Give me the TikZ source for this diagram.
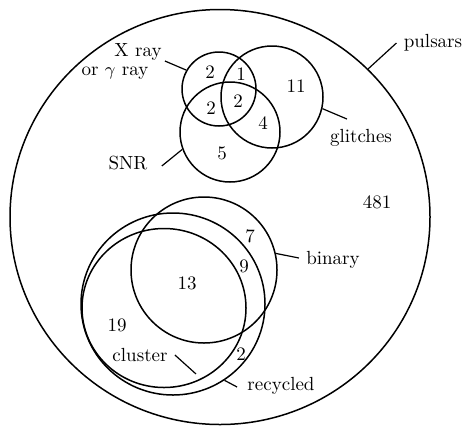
\documentclass[tikz,border=0pt]{standalone}
\usetikzlibrary{shapes.geometric,calc}
\begin{document}
\begin{tikzpicture}[x=0.5pt,y=-0.5pt,
  every node/.style={font=\fontsize{9.5}{11}\selectfont},
  ring/.style={draw,circle,inner sep=0pt,line width=0.75pt},
  oval/.style={draw,ellipse,inner sep=0pt,line width=0.75pt},
  lbl/.style={inner sep=0pt},
  num/.style={inner sep=0pt},
  leader/.style={line width=0.6pt}]
\useasboundingbox (0,0) rectangle (464,429);
% sets
\node[oval,minimum width=210pt,minimum height=207.5pt] (pulsars) at (220,217) {};
\node[ring,minimum size=37pt] (xray) at (219,89) {};
\node[ring,minimum size=51pt] (glitch) at (272,97) {};
\node[ring,minimum size=50pt] (snr) at (230,132) {};
\node[ring,minimum size=73pt] (binary) at (204,270) {};
\node[oval,minimum width=92pt,minimum height=91pt] (recyc) at (173,304) {};
\node[oval,minimum width=82pt,minimum height=79.5pt] (clust) at (164,308) {};
% counts
\node[num] (a1) at (210,72) {2};
\node[num] (a2) at (241,74) {1};
\node[num] (a3) at (296,86) {11};
\node[num] (a4) at (211,108) {2};
\node[num] (a5) at (238,101) {2};
\node[num] (a6) at (263,123) {4};
\node[num] (a7) at (222,153) {5};
\node[num] (a8) at (377,202) {481};
\node[num] (b1) at (250,236) {7};
\node[num] (b2) at (244,266) {9};
\node[num] (b3) at (187,283) {13};
\node[num] (b4) at (117,325) {19};
\node[num] (b5) at (241,354) {2};
% labels
\node[lbl] (lx) at (138,52) {X ray};
\node[lbl] (lg) at (115,73) {or $\gamma$ ray};
\node[lbl] (lsnr) at (128,163) {SNR};
\node[lbl] (lpul) at (433,43) {pulsars};
\node[lbl] (lgli) at (361,138) {glitches};
\node[lbl] (lbin) at (333,260) {binary};
\node[lbl] (lclu) at (140,355) {cluster};
\node[lbl] (lrec) at (281,386) {recycled};
% leaders
\coordinate (ex) at ($(lx.east)+(3,9)$);
\draw[leader] (ex) -- (xray.150);
\coordinate (es) at ($(lsnr.east)+(14,3)$);
\draw[leader] (es) -- (snr.200);
\coordinate (ep) at ($(lpul.west)+(-7,0)$);
\draw[leader] (ep) -- (pulsars.45);
\coordinate (eg) at ($(lgli.north)+(-14,-10)$);
\draw[leader] (glitch.-13) -- (eg);
\coordinate (eb) at ($(lbin.west)+(-7,-2)$);
\draw[leader] (binary.13) -- (eb);
\coordinate (ec) at ($(lclu.east)+(7,0)$);
\draw[leader,shorten >=4pt] (ec) -- (clust.-62);
\coordinate (er) at ($(lrec.west)+(-10,1)$);
\draw[leader] (recyc.-56) -- (er);
\end{tikzpicture}
\end{document}
